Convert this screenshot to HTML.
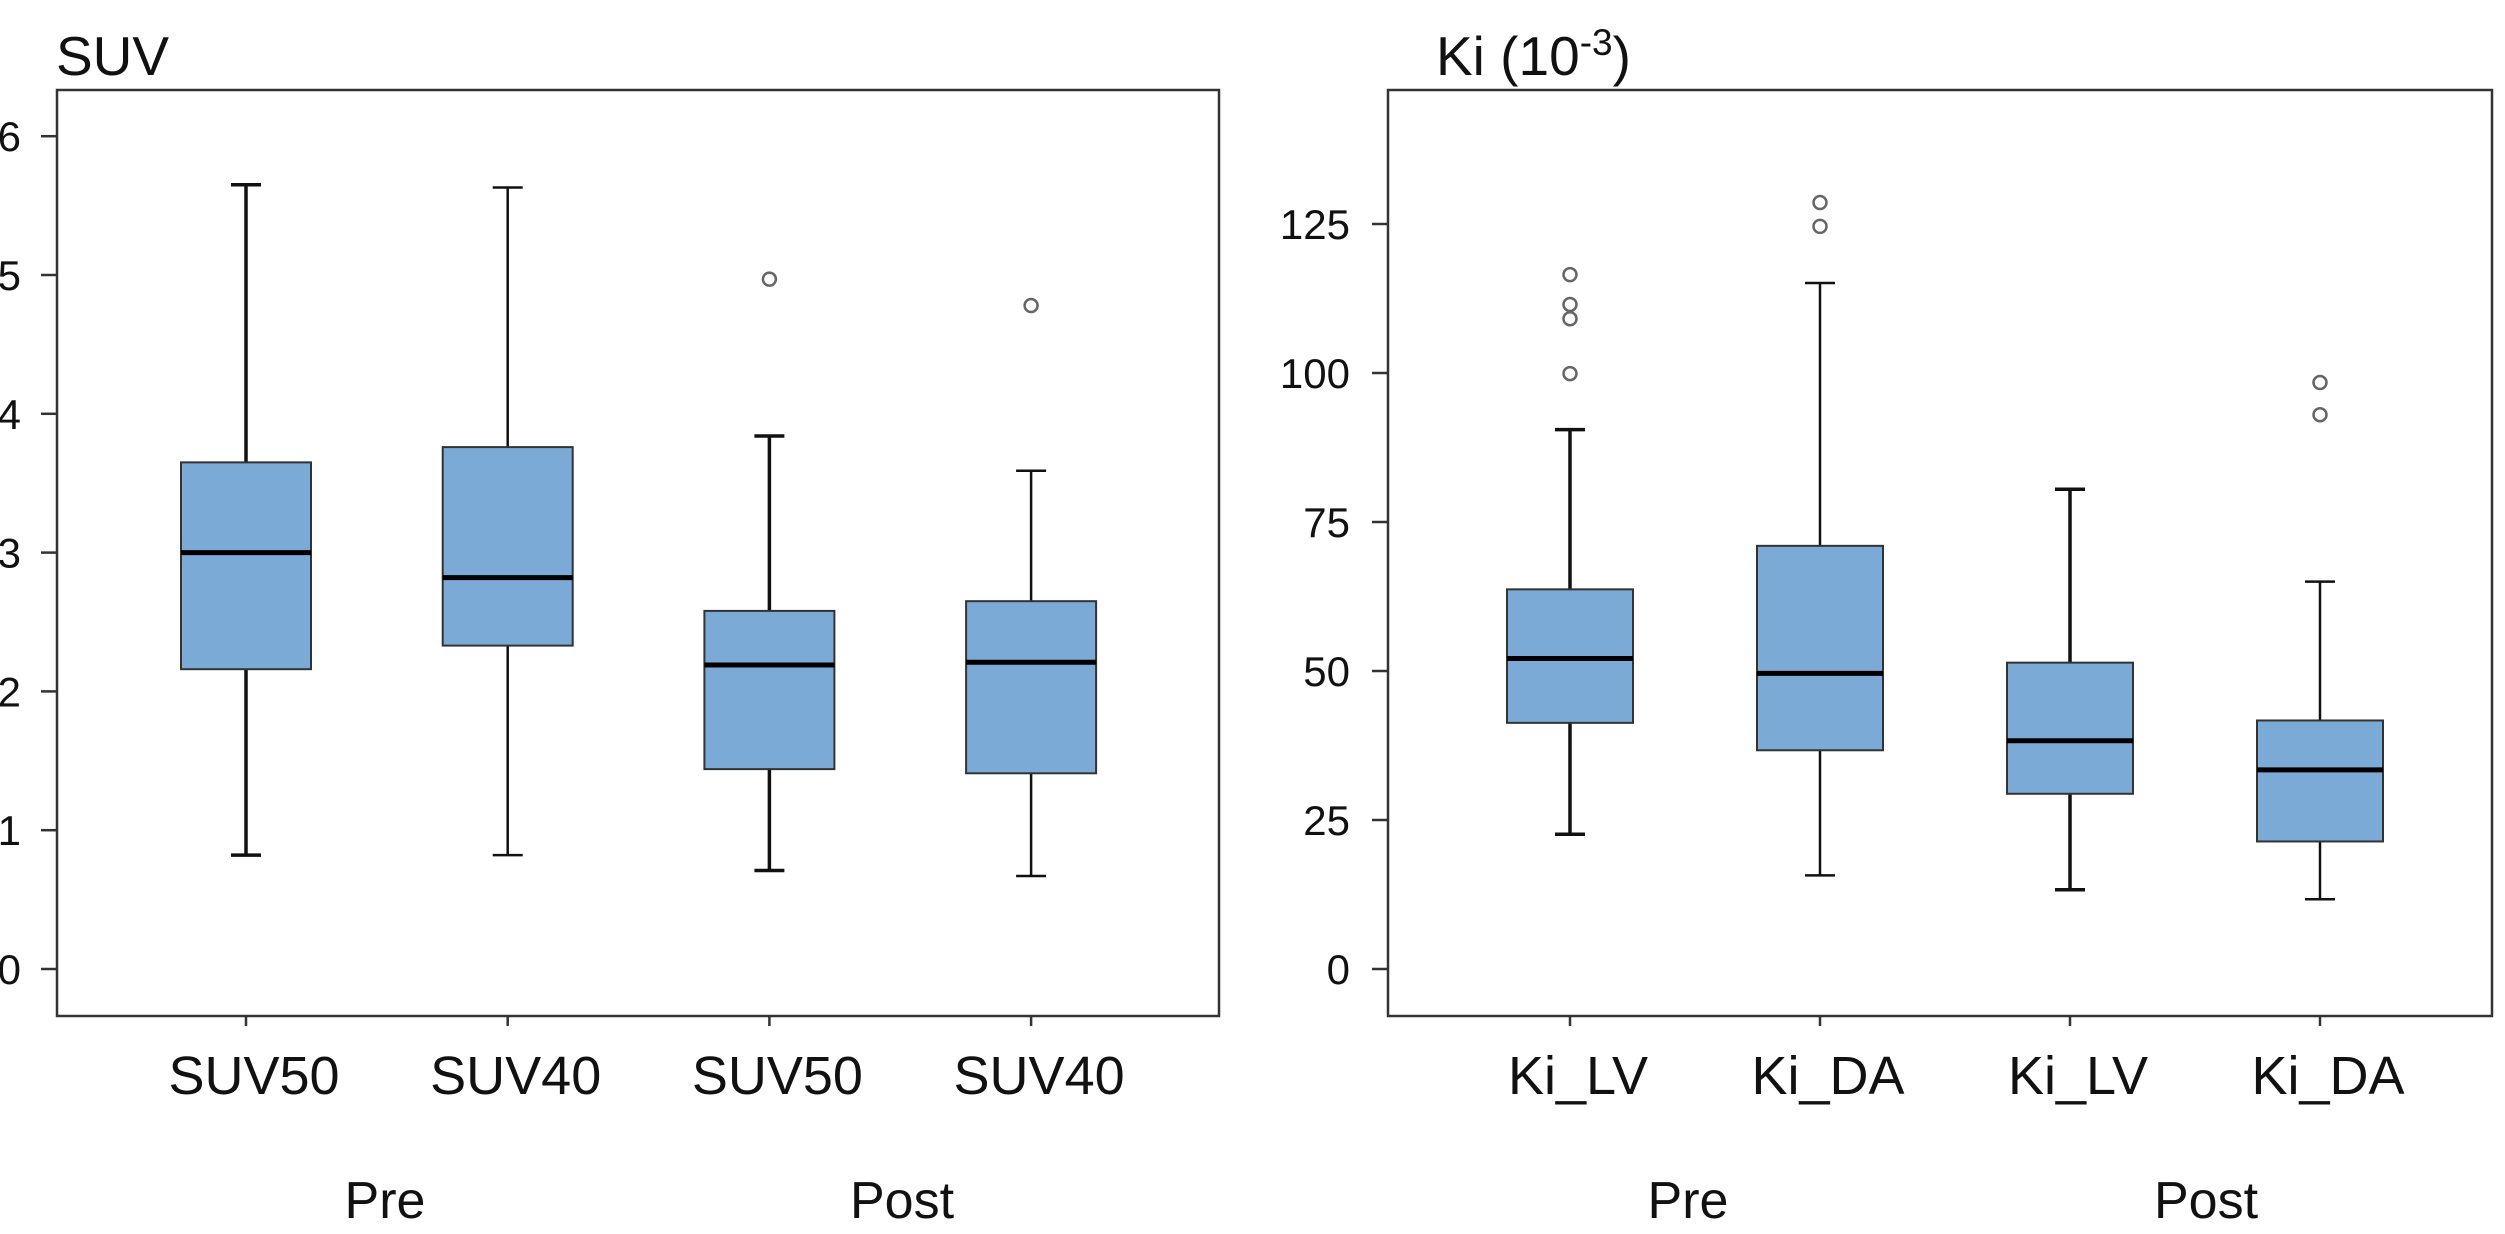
<!DOCTYPE html>
<html><head><meta charset="utf-8"><style>
html,body{margin:0;padding:0;background:#fff}
svg{display:block}
text{font-family:"Liberation Sans",Arial,sans-serif;fill:#111}
</style></head><body>
<svg id="chart" width="2505" height="1234" viewBox="0 0 2505 1234">
<g id="left"></g>
<g id="right"></g>
</svg>
<script>
const suvCategories = ["SUV50","SUV40","SUV50","SUV40"];
const suvMax = [5.65,5.63,3.84,3.59];
const suvQ3 = [3.65,3.76,2.58,2.65];
const suvMedian = [3.0,2.82,2.19,2.21];
const suvQ1 = [2.16,2.33,1.44,1.41];
const suvMin = [0.82,0.82,0.71,0.67];
const suvOutliers = [[],[],[4.97],[4.78]];
const suvTicks = [0,1,2,3,4,5,6];

const kiCategories = ["Ki_LV","Ki_DA","Ki_LV","Ki_DA"];
const kiMax = [90.5,115.1,80.5,65.0];
const kiQ3 = [63.7,71.0,51.4,41.7];
const kiMedian = [52.1,49.6,38.3,33.4];
const kiQ1 = [41.3,36.7,29.4,21.4];
const kiMin = [22.6,15.7,13.3,11.7];
const kiOutliers = [[116.5,111.5,109.1,99.9],[128.6,124.6],[],[98.4,93.0]];
const kiTicks = [0,25,50,75,100,125];

const groups = ["Pre","Post"];
const NS = "http://www.w3.org/2000/svg";
function mk(parent, tag, attrs, txt){
  const e = document.createElementNS(NS, tag);
  for (const k in attrs) e.setAttribute(k, attrs[k]);
  if (txt !== undefined) e.textContent = txt;
  parent.appendChild(e);
  return e;
}

function panel(g, cfg){
  const y = v => cfg.y0 - (v - cfg.v0) * cfg.pxPerUnit;
  const x = i => cfg.cx0 + i * cfg.step;
  const f = mk(g,'rect',{x:cfg.fl,y:90,width:cfg.fr-cfg.fl,height:1016-90,fill:'none',stroke:'#333','stroke-width':2.5});
  
  
  const t = mk(g,'text',{x:cfg.titleX,y:75,'font-size':55},'');
  
  
  if (cfg.title === 'Ki') {
    t.textContent = 'Ki (10';
    mk(t,'tspan',{dy:-20,'font-size':37},'-3');
    mk(t,'tspan',{dy:20,'font-size':55},')');
  } else t.textContent = cfg.title;
  cfg.ticks.forEach(v=>{
    const l = mk(g,'line',{x1:cfg.fl-16,x2:cfg.fl,y1:y(v),y2:y(v),stroke:'#333','stroke-width':2.5});
    
    
    const tx = mk(g,'text',{x:cfg.fl-cfg.labelGap,y:y(v)+15,'font-size':42,'text-anchor':'end'},String(v));
    
    
  });
  cfg.cats.forEach((c,i)=>{
    const cx = x(i);
    const tk = mk(g,'line',{x1:cx,x2:cx,y1:1016,y2:1026,stroke:'#333','stroke-width':2.5});
    
    
    const lb = mk(g,'text',{x:cx+8,y:1094,'font-size':54,'text-anchor':'middle'},c);
    
    
    const bw = cfg.bw, cap = 30;
    const sw = (i%2===0)?3.5:2.5;
    const wh = mk(g,'line',{x1:cx,x2:cx,y1:y(cfg.max[i]),y2:y(cfg.q3[i]),stroke:'#111','stroke-width':sw});
    
    
    const wl = mk(g,'line',{x1:cx,x2:cx,y1:y(cfg.q1[i]),y2:y(cfg.min[i]),stroke:'#111','stroke-width':sw});
    
    
    const c1 = mk(g,'line',{x1:cx-cap/2,x2:cx+cap/2,y1:y(cfg.max[i]),y2:y(cfg.max[i]),stroke:'#111','stroke-width':sw});
    
    
    const c2 = mk(g,'line',{x1:cx-cap/2,x2:cx+cap/2,y1:y(cfg.min[i]),y2:y(cfg.min[i]),stroke:'#111','stroke-width':sw});
    
    
    const b = mk(g,'rect',{x:cx-bw/2,y:y(cfg.q3[i]),width:bw,height:y(cfg.q1[i])-y(cfg.q3[i]),fill:'#7baad6',stroke:'#333','stroke-width':2});
    
    
    const m = mk(g,'line',{x1:cx-bw/2,x2:cx+bw/2,y1:y(cfg.med[i]),y2:y(cfg.med[i]),stroke:'#000','stroke-width':5});
    
    
    cfg.out[i].forEach(v=>{
      const o = mk(g,'circle',{cx:cx,cy:y(v),r:6.5,fill:'#fff',stroke:'#666','stroke-width':2.5});
      
      
    });
  });
  groups.forEach((gname,j)=>{
    const gl = mk(g,'text',{x:cfg.groupX[j],y:1218,'font-size':52,'text-anchor':'middle'},gname);
    
    
  });
}

panel(document.getElementById('left'),{
  fl:57,fr:1219,y0:969,v0:0,pxPerUnit:138.8,cx0:246,step:261.7,bw:130,labelGap:36,
  title:'SUV',titleX:56,ticks:suvTicks,cats:suvCategories,
  max:suvMax,q3:suvQ3,med:suvMedian,q1:suvQ1,min:suvMin,out:suvOutliers,groupX:[385,902]
});
panel(document.getElementById('right'),{
  fl:1388,fr:2492,y0:969,v0:0,pxPerUnit:149/25,cx0:1570,step:250,bw:126,labelGap:38,
  title:'Ki',titleX:1436,ticks:kiTicks,cats:kiCategories,
  max:kiMax,q3:kiQ3,med:kiMedian,q1:kiQ1,min:kiMin,out:kiOutliers,groupX:[1688,2206]
});
</script>
</body></html>
